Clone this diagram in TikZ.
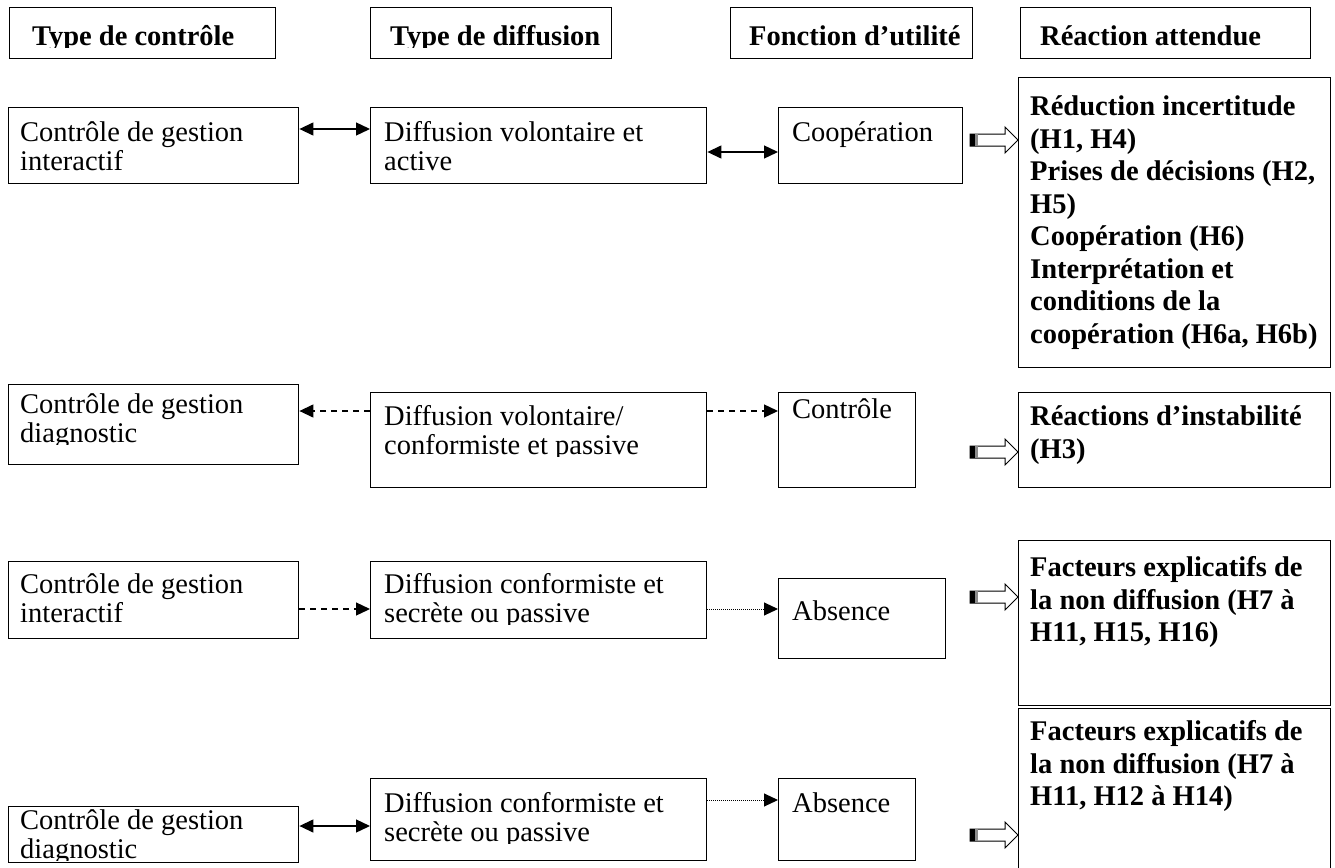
\documentclass[tikz,border=0pt]{standalone}
\usepackage{fontspec}
\setmainfont{Liberation Serif}
\usetikzlibrary{arrows.meta}
\begin{document}
\begin{tikzpicture}[x=1pt,y=-1pt,
  box/.style={draw, line width=1.4pt, anchor=north west, inner sep=0pt},
  txt/.style={anchor=north west, inner sep=0pt, align=left, font=\fontsize{28.5}{29}\selectfont},
  btxt/.style={anchor=north west, inner sep=0pt, align=left, font=\fontsize{28.5}{32.5}\selectfont\bfseries},
  htxt/.style={anchor=north west, inner sep=0pt, align=left, font=\fontsize{28.5}{30}\selectfont\bfseries},
  link/.style={line width=1.3pt},
  dlink/.style={line width=1.3pt, dash pattern=on 6pt off 5pt},
  olink/.style={line width=1pt, dash pattern=on 1pt off 1pt},
  hollow/.style={draw, line width=1pt, fill=white},
  tipT/.tip={Triangle[length=14pt,width=13pt]}
]
\useasboundingbox (0,0) rectangle (1335,867);

% headers
\node[box, minimum width=266, minimum height=51] (h1) at (9,7) {};
\node[box, minimum width=241, minimum height=51] (h2) at (370,7) {};
\node[box, minimum width=242, minimum height=51] (h3) at (730,7) {};
\node[box, minimum width=290, minimum height=51] (h4) at (1020,7) {};
\begin{scope}
  \clip (0,0) rectangle (1335,47.5);
  \node[htxt] (h1t) at (32,25) {Type de contrôle};
  \node[htxt] (h2t) at (390,25) {Type de diffusion};
  \node[htxt] (h3t) at (749,25) {Fonction d’utilité};
  \node[htxt] (h4t) at (1040,25) {Réaction attendue};
\end{scope}

% row 1
\node[box, minimum width=290, minimum height=76] (a1) at (8,107) {};
\node[box, minimum width=336, minimum height=76] (b1) at (370,107) {};
\node[box, minimum width=184, minimum height=76] (c1) at (778,107) {};
\node[box, minimum width=312, minimum height=290] (d1) at (1018,77) {};
\node[txt] (a1t) at (20,121.5) {Contrôle de gestion\\interactif};
\node[txt] (b1t) at (384,121.5) {Diffusion volontaire et\\active};
\node[txt] (c1t) at (792,121.5) {Coopération};
\node[btxt] (d1t) at (1030,95.5) {Réduction incertitude\\(H1, H4)\\Prises de décisions (H2,\\H5)\\Coopération (H6)\\Interprétation et\\conditions de la\\coopération (H6a, H6b)};

% row 2
\node[box, minimum width=290, minimum height=80] (a2) at (8,384) {};
\node[box, minimum width=336, minimum height=95] (b2) at (370,392) {};
\node[box, minimum width=137, minimum height=95] (c2) at (778,392) {};
\node[box, minimum width=312, minimum height=95] (d2) at (1018,392) {};
\begin{scope}
  \clip (0,0) rectangle (360,444.5);
  \node[txt] (a2t) at (20,393.5) {Contrôle de gestion\\diagnostic};
\end{scope}
\begin{scope}
  \clip (360,0) rectangle (720,456.5);
  \node[txt] (b2t) at (384,405.5) {Diffusion volontaire/\\conformiste et passive};
\end{scope}
\node[txt] (c2t) at (792,398.5) {Contrôle};
\node[btxt] (d2t) at (1030,405.5) {Réactions d’instabilité\\(H3)};

% row 3
\node[box, minimum width=290, minimum height=77] (a3) at (8,561) {};
\node[box, minimum width=336, minimum height=77] (b3) at (370,561) {};
\node[box, minimum width=167, minimum height=80] (c3) at (778,578) {};
\node[box, minimum width=312, minimum height=165] (d3) at (1018,540) {};
\node[txt] (a3t) at (20,573.5) {Contrôle de gestion\\interactif};
\begin{scope}
  \clip (360,0) rectangle (720,624.5);
  \node[txt] (b3t) at (384,573.5) {Diffusion conformiste et\\secrète ou passive};
\end{scope}
\node[txt] (c3t) at (792,600.5) {Absence};
\node[btxt] (d3t) at (1030,556.5) {Facteurs explicatifs de\\la non diffusion (H7 à\\H11, H15, H16)};

% row 4
\node[box, minimum width=290, minimum height=56] (a4) at (8,806) {};
\node[box, minimum width=336, minimum height=82] (b4) at (370,778) {};
\node[box, minimum width=137, minimum height=82] (c4) at (778,778) {};
\node[box, minimum width=312, minimum height=175] (d4) at (1018,708) {};
\begin{scope}
  \clip (0,0) rectangle (360,860);
  \node[txt] (a4t) at (20,809) {Contrôle de gestion\\diagnostic};
\end{scope}
\begin{scope}
  \clip (360,0) rectangle (720,843.5);
  \node[txt] (b4t) at (384,792.5) {Diffusion conformiste et\\secrète ou passive};
\end{scope}
\node[txt] (c4t) at (792,792.5) {Absence};
\node[btxt] (d4t) at (1030,720.5) {Facteurs explicatifs de\\la non diffusion (H7 à\\H11, H12 à H14)};

% connector levels
\coordinate (y1a) at (0,129);
\coordinate (y1b) at (0,152);
\coordinate (y2) at (0,411);
\coordinate (y3) at (0,609);
\coordinate (y4a) at (0,826);
\coordinate (y4b) at (0,800);

\draw[link, tipT-tipT] (a1.east |- y1a) -- (b1.west |- y1a);
\draw[link, tipT-tipT] (b1.east |- y1b) -- (c1.west |- y1b);
\draw[dlink, -tipT] (b2.west |- y2) -- (a2.east |- y2);
\draw[dlink, -tipT] (b2.east |- y2) -- (c2.west |- y2);
\draw[dlink, -tipT] (a3.east |- y3) -- (b3.west |- y3);
\draw[olink, -tipT] (b3.east |- y3) -- (c3.west |- y3);
\draw[link, tipT-tipT] (a4.east |- y4a) -- (b4.west |- y4a);
\draw[olink, -tipT] (b4.east |- y4b) -- (c4.west |- y4b);

% hollow block arrows
\foreach \d/\yy in {d1/140, d2/452, d3/597, d4/835} {
  \coordinate (tipc) at (\d.west |- 0,\yy);
  \draw[hollow] ([shift={(-48,-6)}]tipc) -- ([shift={(-13,-6)}]tipc) -- ([shift={(-13,-13)}]tipc) -- (tipc) -- ([shift={(-13,13)}]tipc) -- ([shift={(-13,6)}]tipc) -- ([shift={(-48,6)}]tipc) -- cycle;
  \fill[black] ([shift={(-48,-6)}]tipc) rectangle ([shift={(-43,6)}]tipc);
  \fill[black!45] ([shift={(-43,-6)}]tipc) rectangle ([shift={(-40,6)}]tipc);
}
\end{tikzpicture}
\end{document}
